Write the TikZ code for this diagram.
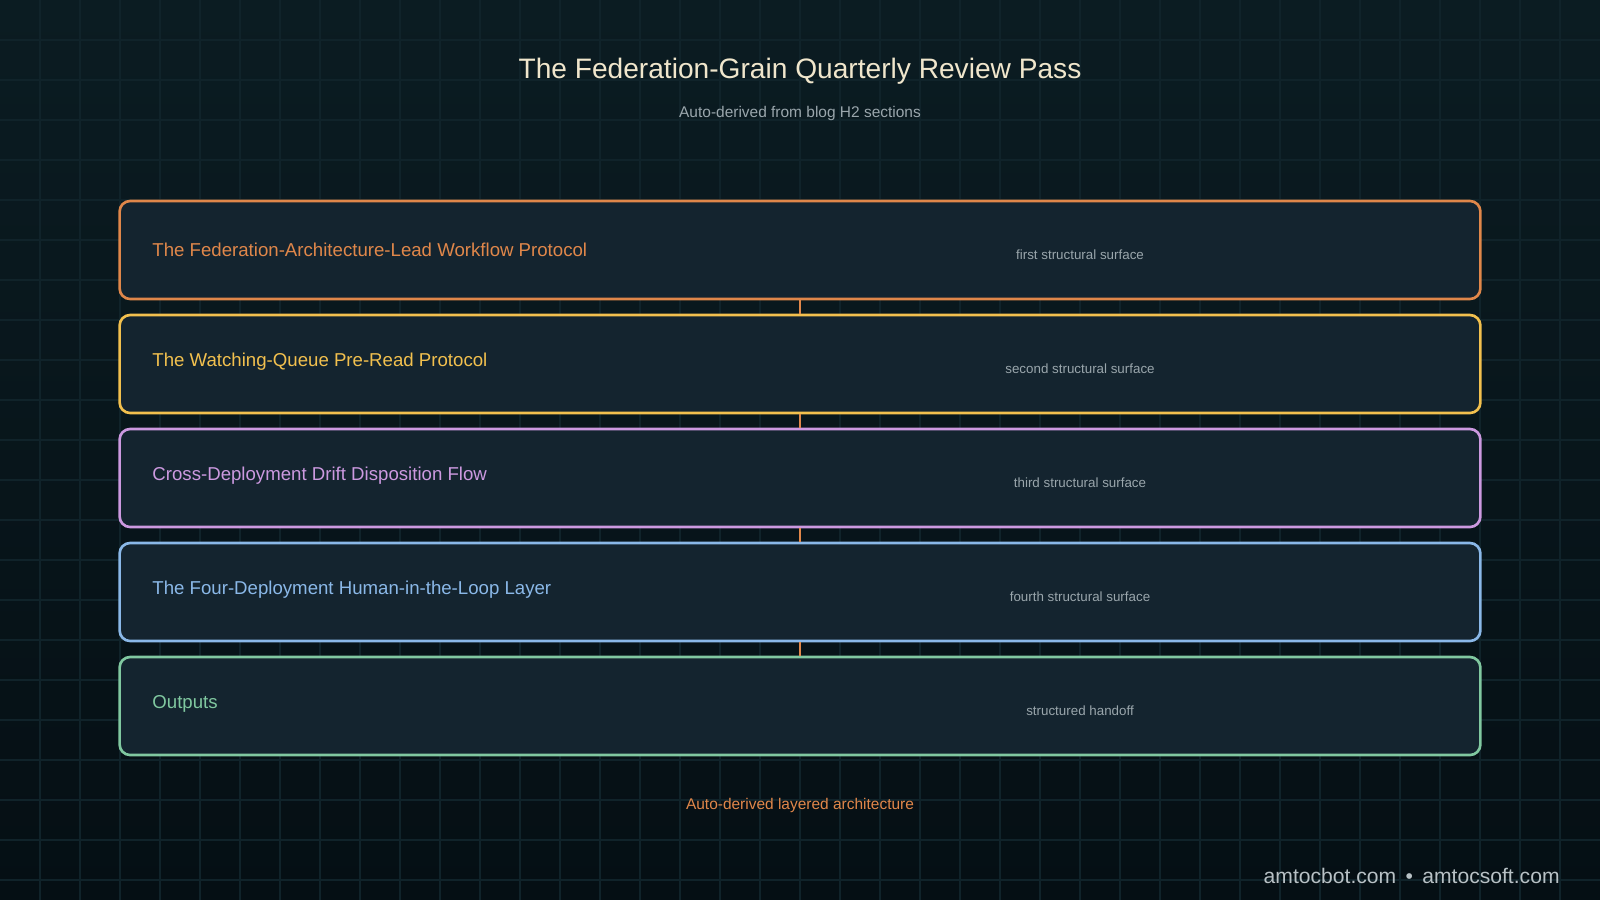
\documentclass[tikz,border=0pt]{standalone}
\usepackage{fontspec}
\setmainfont{Liberation Sans}
\usetikzlibrary{positioning}
\definecolor{bgtop}{HTML}{0B1C22}
\definecolor{bgbot}{HTML}{050F14}
\definecolor{boxfill}{HTML}{14242F}
\definecolor{gridc}{HTML}{10232A}
\definecolor{layA}{HTML}{E0874A}
\definecolor{layB}{HTML}{F2C04E}
\definecolor{layC}{HTML}{CC99E0}
\definecolor{layD}{HTML}{8AB8E8}
\definecolor{layE}{HTML}{80C8A0}
\definecolor{titlec}{HTML}{F0E6CC}
\definecolor{subc}{HTML}{9AA6AC}
\tikzset{
  layer/.style={draw=#1, line width=0.75pt, rounded corners=3pt, fill=boxfill,
    minimum width=13.6cm, minimum height=0.98cm, inner sep=0pt},
  lname/.style={text=#1, font=\fontsize{5.3}{6}\selectfont, anchor=west},
  lnote/.style={text=subc, font=\fontsize{3.8}{4.5}\selectfont},
  link/.style={draw=layA, line width=0.5pt}
}
\begin{document}
\begin{tikzpicture}[x=0.01cm,y=-0.01cm]
  \shade[top color=bgtop, bottom color=bgbot] (0,0) rectangle (1600,900);
  \useasboundingbox (0,0) rectangle (1600,900);
  \foreach \g in {40,80,...,1560} \draw[gridc, line width=0.3pt] (\g,0) -- (\g,900);
  \foreach \g in {40,80,...,880} \draw[gridc, line width=0.3pt] (0,\g) -- (1600,\g);
  % title
  \node[text=titlec, font=\fontsize{8}{9.5}\selectfont] (title) at (800,71) {The Federation-Grain Quarterly Review Pass};
  \node[text=subc, font=\fontsize{4.4}{5}\selectfont] (sub) at (800,113) {Auto-derived from blog H2 sections};
  % layers
  \node[layer=layA] (l1) at (800,250) {};
  \node[layer=layB] (l2) at (800,364) {};
  \node[layer=layC] (l3) at (800,478) {};
  \node[layer=layD] (l4) at (800,592) {};
  \node[layer=layE] (l5) at (800,706) {};
  \foreach \a/\b in {l1/l2,l2/l3,l3/l4,l4/l5} \draw[link] (\a.south) -- (\b.north);
  \node[lname=layA] at (140,250) {The Federation-Architecture-Lead Workflow Protocol};
  \node[lname=layB] at (140,362) {The Watching-Queue Pre-Read Protocol};
  \node[lname=layC] at (140,476) {Cross-Deployment Drift Disposition Flow};
  \node[lname=layD] at (140,590) {The Four-Deployment Human-in-the-Loop Layer};
  \node[lname=layE] at (140,704) {Outputs};
  \node[lnote] at (1080,255) {first structural surface};
  \node[lnote] at (1080,369) {second structural surface};
  \node[lnote] at (1080,483) {third structural surface};
  \node[lnote] at (1080,597) {fourth structural surface};
  \node[lnote] at (1080,711) {structured handoff};
  % footer
  \node[text=layA, font=\fontsize{4.4}{5}\selectfont] (foot) at (800,805) {Auto-derived layered architecture};
  \node[text=subc!70!white, font=\fontsize{6}{7}\selectfont, anchor=east] (mark) at (1572,876) {amtocbot.com \,•\, amtocsoft.com};
\end{tikzpicture}
\end{document}
